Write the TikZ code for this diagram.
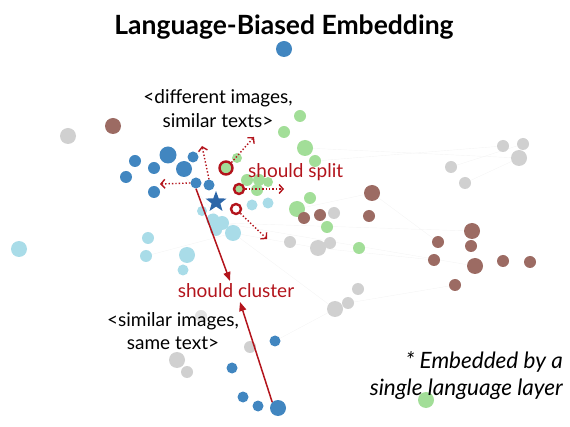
\documentclass[tikz,border=0pt]{standalone}
\usepackage{fontspec}
\setmainfont{Lato}
\usepackage{tikz}
\usetikzlibrary{shapes.geometric}
\usetikzlibrary{arrows.meta}
\usetikzlibrary{backgrounds}
\definecolor{dotblue}{HTML}{4186C0}
\definecolor{dotlblue}{HTML}{A9DCE8}
\definecolor{dotgreen}{HTML}{A2DE98}
\definecolor{dotbrown}{HTML}{9C6B63}
\definecolor{dotgray}{HTML}{D0D0D0}
\definecolor{arrred}{HTML}{B3141C}
\definecolor{starblue}{HTML}{2C66A8}
\tikzset{dotnode/.style={circle, inner sep=0pt, minimum size=#1}}
\tikzset{bl/.style={dotnode=#1, fill=dotblue}, bl/.default=12}
\tikzset{lb/.style={dotnode=#1, fill=dotlblue}, lb/.default=12}
\tikzset{gr/.style={dotnode=#1, fill=dotgreen}, gr/.default=12}
\tikzset{br/.style={dotnode=#1, fill=dotbrown}, br/.default=12}
\tikzset{gy/.style={dotnode=#1, fill=dotgray}, gy/.default=12}
\tikzset{ring/.style={dotnode=#1, draw=arrred, line width=2.4pt}}
\tikzset{splitarr/.style={arrred, dotted, line width=1.4pt, -{Straight Barb[length=4pt, width=9pt, line width=1.4pt]}}}
\tikzset{clusterarr/.style={arrred, line width=1.5pt, -{Triangle[length=9pt, width=7pt]}}}
\tikzset{faint/.style={black!4, line width=0.4pt}}
\tikzset{lbl/.style={font=\fontsize{19}{24}\selectfont, align=center, inner sep=0pt, anchor=base}}

\begin{document}
\begin{tikzpicture}[x=1pt, y=-1pt]
    \useasboundingbox (0, 0) rectangle (570, 427);

    % blue
    \node [bl=16] (b1) at (284, 49) {};
    \node [bl=17] (b2) at (168, 155) {};
    \node [bl] (b3) at (135, 161) {};
    \node [bl] (b4) at (154, 168) {};
    \node [bl=16] (b5) at (184, 169) {};
    \node [bl=11] (b6) at (193, 157) {};
    \node [bl] (b7) at (126, 177) {};
    \node [bl] (b8) at (154, 192) {};
    \node [bl=11] (b9) at (196, 183) {};
    \node [bl=11] (b10) at (209, 185) {};
    \node [bl=11] (b11) at (275, 341) {};
    \node [bl=11] (b12) at (232, 368) {};
    \node [bl=11] (b13) at (243, 397) {};
    \node [bl=11] (b14) at (258, 406) {};
    \node [bl=16] (b15) at (278, 408) {};

    % light blue
    \node [lb=16] (c1) at (19, 249) {};
    \node [lb] (c2) at (148, 238) {};
    \node [lb] (c3) at (146, 256) {};
    \node [lb=16] (c4) at (187, 255) {};
    \node [lb=11] (c5) at (183, 270) {};
    \node [lb=10] (c6) at (202, 211) {};
    \node [lb=13] (c7) at (213, 220) {};
    \node [lb=14] (c8) at (222, 223) {};
    \node [lb=16] (c9) at (233, 233) {};
    \node [lb=12] (c12) at (216, 230) {};
    \node [lb=11] (c10) at (252, 205) {};
    \node [lb=11] (c11) at (268, 203) {};

    % green
    \node [gr] (g1) at (300, 116) {};
    \node [gr] (g2) at (284, 132) {};
    \node [gr=16] (g3) at (305, 148) {};
    \node [gr] (g4) at (315, 161) {};
    \node [gr=10] (g5) at (237, 158) {};
    \node [gr] (g6) at (247, 180) {};
    \node [gr] (g7) at (259, 180) {};
    \node [gr=10] (g8) at (268, 182) {};
    \node [gr] (g9) at (257, 190) {};
    \node [gr] (g10) at (310, 198) {};
    \node [gr=16] (g11) at (297, 209) {};
    \node [gr] (g12) at (327, 227) {};
    \node [gr] (g13) at (359, 248) {};
    \node [gr=16] (g14) at (426, 400) {};

    % brown
    \node [br=16] (r1) at (113, 126) {};
    \node [br=16] (r2) at (372, 193) {};
    \node [br] (r3) at (369, 216) {};
    \node [br] (r4) at (304, 218) {};
    \node [br] (r5) at (320, 215) {};
    \node [br=16] (r6) at (472, 231) {};
    \node [br] (r7) at (438, 242) {};
    \node [br] (r8) at (471, 246) {};
    \node [br] (r9) at (434, 260) {};
    \node [br=16] (r10) at (475, 266) {};
    \node [br] (r11) at (503, 261) {};
    \node [br] (r12) at (530, 262) {};
    \node [br] (r13) at (455, 285) {};

    % gray
    \node [gy=16] (y1) at (68, 136) {};
    \node [gy] (y2) at (503, 146) {};
    \node [gy] (y3) at (523, 144) {};
    \node [gy=16] (y4) at (519, 158) {};
    \node [gy] (y5) at (451, 167) {};
    \node [gy] (y6) at (465, 183) {};
    \node [gy] (y7) at (334, 213) {};
    \node [gy] (y8) at (290, 242) {};
    \node [gy=16] (y9) at (318, 248) {};
    \node [gy] (y10) at (330, 243) {};
    \node [gy] (y11) at (358, 289) {};
    \node [gy] (y12) at (348, 303) {};
    \node [gy=16] (y13) at (335, 309) {};
    \node [gy] (y14) at (250, 347) {};
    \node [gy=16] (y15) at (177, 360) {};
    \node [gy] (y16) at (187, 372) {};
    \node [gy, fill=dotgray!60] (y17) at (201, 316) {};

    % faint links
    \begin{scope}[on background layer]
        \draw [faint] (c8) -- (r6);
        \draw [faint] (c8) -- (r10);
        \draw [faint] (g3) -- (y4);
        \draw [faint] (g4) -- (y2);
        \draw [faint] (y5) -- (y3);
        \draw [faint] (y6) -- (y4);
        \draw [faint] (g11) -- (r2);
        \draw [faint] (c9) -- (y13);
        \draw [faint] (c9) -- (y9);
        \draw [faint] (r2) -- (r7);
        \draw [faint] (y9) -- (r9);
        \draw [faint] (c8) -- (b2);
        \draw [faint] (c9) -- (c3);
        \draw [faint] (y13) -- (b11);
        \draw [faint] (y12) -- (r13);
    \end{scope}

    % rings and the star
    \node [ring=13, fill=dotgreen] (k1) at (226, 168) {};
    \node [ring=10, fill=dotgreen] (k2) at (239, 189) {};
    \node [ring=10, fill=white] (k3) at (236, 209) {};
    \node [star, star points=5, star point ratio=2.4, minimum size=22, inner sep=0pt, fill=starblue] (s) at (216, 202) {};

    \coordinate (tipU) at (202, 146);
    \coordinate (tipL) at (160, 184);
    \coordinate (tipK1) at (254, 137);
    \coordinate (tipK2) at (284, 189);
    \coordinate (tipK3) at (267, 239);
    \coordinate (tipD) at (230, 281);
    \coordinate (tipUp) at (240, 302);

    \draw [splitarr] (b10.north) to (tipU);
    \draw [splitarr] (b9.west) to (tipL);
    \draw [splitarr] (k1.north east) to (tipK1);
    \draw [splitarr] (k2.east) to (tipK2);
    \draw [splitarr] (k3.south east) to (tipK3);

    \draw [clusterarr] (b9.south) to (tipD);
    \draw [clusterarr] (b15.north west) to (tipUp);

    \node [inner sep=0pt, anchor=base, font=\fontsize{26.5}{30}\selectfont\bfseries] (title) at (284, 35) {Language-Biased Embedding};
    \node [lbl] (diff) at (218, 128) {<different images,\\similar texts>};
    \node [lbl, text=arrred, anchor=base west] (split) at (248, 178) {should split};
    \node [lbl, text=arrred] (clust) at (236, 298) {should cluster};
    \node [lbl, font=\fontsize{19}{23}\selectfont] (simi) at (173, 349) {<similar images,\\same text>};
    \node [lbl, align=right, anchor=base east, font=\fontsize{22.5}{26}\selectfont\itshape] (note) at (563, 395) {* Embedded by a\\single language layer};
\end{tikzpicture}
\end{document}
